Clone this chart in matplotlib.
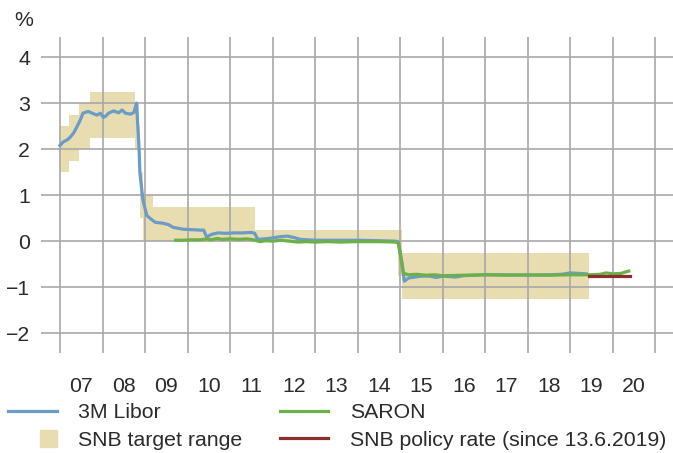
import matplotlib.pyplot as plt
import matplotlib.patches as mpatches
from matplotlib.lines import Line2D
from matplotlib.legend_handler import HandlerPatch
import numpy as np

# Chart data (decimal years, percent)
libor_dates = [2007.0, 2007.08, 2007.17, 2007.24, 2007.32, 2007.39, 2007.47, 2007.54, 2007.66,
               2007.76, 2007.87, 2007.95, 2008.02, 2008.08, 2008.14, 2008.26, 2008.38, 2008.46,
               2008.54, 2008.66, 2008.74, 2008.8, 2008.86, 2008.88, 2008.95, 2009.04, 2009.14,
               2009.24, 2009.42, 2009.55, 2009.66, 2009.9, 2010.1, 2010.29, 2010.38, 2010.45,
               2010.57, 2010.72, 2010.9, 2011.1, 2011.3, 2011.5, 2011.58, 2011.65, 2011.8,
               2012.0, 2012.2, 2012.35, 2012.5, 2012.65, 2012.8, 2013.0, 2013.5, 2014.0, 2014.5,
               2014.9, 2014.96, 2015.05, 2015.1, 2015.2, 2015.35, 2015.5, 2015.7, 2015.85,
               2016.0, 2016.3, 2016.5, 2016.75, 2017.0, 2017.5, 2018.0, 2018.5, 2018.8, 2019.0,
               2019.2, 2019.38]
libor_values = [2.08, 2.16, 2.2, 2.26, 2.35, 2.47, 2.62, 2.78, 2.82,
                2.78, 2.74, 2.78, 2.69, 2.72, 2.78, 2.83, 2.79, 2.85,
                2.78, 2.76, 2.8, 3.0, 2.0, 1.48, 0.9, 0.56, 0.48,
                0.41, 0.39, 0.36, 0.3, 0.26, 0.25, 0.24, 0.24, 0.09,
                0.15, 0.18, 0.17, 0.18, 0.18, 0.19, 0.17, 0.04, 0.05,
                0.07, 0.1, 0.11, 0.08, 0.04, 0.03, 0.02, 0.02, 0.02, 0.01,
                0.0, -0.02, -0.5, -0.87, -0.8, -0.78, -0.76, -0.76, -0.79,
                -0.76, -0.78, -0.75, -0.74, -0.73, -0.73, -0.74, -0.73, -0.72, -0.69,
                -0.7, -0.71]

saron_dates = [2009.72, 2009.9, 2010.1, 2010.3, 2010.45, 2010.55, 2010.7, 2010.8, 2011.0,
               2011.2, 2011.4, 2011.55, 2011.7, 2011.85, 2012.0, 2012.2, 2012.4, 2012.6,
               2012.8, 2013.0, 2013.3, 2013.6, 2014.0, 2014.5, 2014.9, 2014.96, 2015.08,
               2015.2, 2015.4, 2015.6, 2015.8, 2016.0, 2016.5, 2017.0, 2017.5, 2018.0,
               2018.5, 2019.0, 2019.45, 2019.7, 2019.85, 2020.0, 2020.2, 2020.3, 2020.38]
saron_values = [0.02, 0.02, 0.03, 0.03, 0.05, 0.03, 0.06, 0.04, 0.05,
                0.04, 0.05, 0.03, -0.01, 0.01, 0.0, 0.02, 0.0, -0.02,
                -0.01, -0.02, -0.01, -0.02, -0.01, -0.01, -0.02, -0.05, -0.7,
                -0.73, -0.72, -0.74, -0.73, -0.75, -0.74, -0.73, -0.74, -0.73,
                -0.74, -0.73, -0.73, -0.72, -0.69, -0.71, -0.7, -0.67, -0.65]

# SNB target range for 3M Libor (step changes)
range_dates = [2007.0, 2007.2, 2007.45, 2007.71, 2008.77, 2008.85, 2008.89, 2008.95,
               2009.19, 2011.59, 2014.96, 2015.04, 2019.45]
range_lower = [1.5, 1.75, 2.0, 2.25, 2.0, 1.5, 0.5, 0.0, 0.0, 0.0, -0.75, -1.25, -1.25]
range_upper = [2.5, 2.75, 3.0, 3.25, 3.0, 2.5, 1.5, 1.0, 0.75, 0.25, 0.25, -0.25, -0.25]

# SNB policy rate since 13.6.2019
policy_dates = [2019.45, 2020.4]
policy_values = [-0.75, -0.75]

years = list(range(2007, 2021))
year_labels = ['07', '08', '09', '10', '11', '12', '13', '14', '15', '16', '17', '18', '19', '20']

# Colours
libor_color = '#6b9bc7'
saron_color = '#6cb04a'
range_color = '#e8ddb0'
policy_color = '#8b2e2e'
grid_color = '#a8a8a8'
text_color = '#2b2b2b'

plt.rcParams['font.family'] = ['Liberation Sans', 'DejaVu Sans']
plt.rcParams['font.size'] = 15.3
plt.rcParams['text.color'] = text_color

fig = plt.figure(figsize=(6.73, 4.53), dpi=100)
ax = fig.add_axes([41 / 673, 100 / 453, 632 / 673, 315.7 / 453])

# Target range as stepped band
ax.fill_between(range_dates, range_lower, range_upper, step='post',
                color=range_color, linewidth=0, zorder=1)

# Grid lines
for y in range(-2, 5):
    ax.axhline(y, color=grid_color, linewidth=1.2, zorder=2)
for yr in years + [2021]:
    ax.axvline(yr, color=grid_color, linewidth=1.2, zorder=2)

# Series
ax.plot(libor_dates, libor_values, color=libor_color, linewidth=2.3, zorder=3,
        solid_joinstyle='round')
ax.plot(saron_dates, saron_values, color=saron_color, linewidth=2.3, zorder=4,
        solid_joinstyle='round')
ax.plot(policy_dates, policy_values, color=policy_color, linewidth=2.3, zorder=4)

ax.set_xlim(2006.553, 2021.42)
ax.set_ylim(-2.43, 4.43)

# Ticks: labels at mid-year, no tick marks
ax.set_xticks([y + 0.5 for y in years])
ax.set_xticklabels(year_labels)
ax.set_yticks(range(-2, 5))
ax.set_yticklabels(['\u22122', '\u22121', '0', '1', '2', '3', '4'])
ax.tick_params(axis='x', length=0, pad=17, colors=text_color)
ax.tick_params(axis='y', length=0, pad=8, colors=text_color)
for spine in ax.spines.values():
    spine.set_visible(False)

fig.text(14 / 673, 1 - 21 / 453, '%', va='center', ha='left')


# Small square handle for the target range, right-aligned like the reference
def square_handle(legend, orig_handle, xdescent, ydescent, width, height, fontsize):
    side = height * 1.15
    return mpatches.Rectangle((width - side - xdescent, -ydescent + (height - side) / 2),
                              side, side)


handles = [
    Line2D([], [], color=libor_color, linewidth=2.3),
    mpatches.Patch(color=range_color),
    Line2D([], [], color=saron_color, linewidth=2.3),
    Line2D([], [], color=policy_color, linewidth=2.3),
]
labels = ['3M Libor', 'SNB target range', 'SARON', 'SNB policy rate (since 13.6.2019)']
fig.legend(handles, labels, ncol=2, frameon=False,
           loc='upper left', bbox_to_anchor=(8 / 673, 1 - 403 / 453),
           borderaxespad=0, borderpad=0, handlelength=2.3, handletextpad=1.0,
           columnspacing=1.75, labelspacing=0.4,
           handler_map={mpatches.Patch: HandlerPatch(patch_func=square_handle)})

plt.savefig('out.png', dpi=100)
plt.close()
